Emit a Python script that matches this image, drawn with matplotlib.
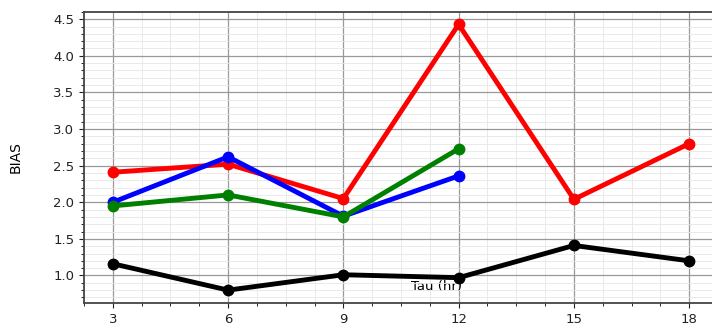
import numpy as np
import matplotlib.pyplot as plt
from matplotlib.ticker import MultipleLocator

# forecast lead times (hours)
tau = [3, 6, 9, 12, 15, 18]
tau_short = [3, 6, 9, 12]

# bias values
bias_red = [2.41, 2.52, 2.05, 4.43, 2.04, 2.80]
bias_blue = [2.00, 2.62, 1.81, 2.36]
bias_green = [1.95, 2.10, 1.80, 2.73]
bias_black = [1.16, 0.80, 1.01, 0.97, 1.41, 1.20]

fig = plt.figure(figsize=(7.12, 3.3), dpi=100)
ax = fig.add_axes([0.118, 0.082, 0.885, 0.882])

ax.plot(tau, bias_red, '-o', color='red', lw=3.5, ms=7.5)
ax.plot(tau_short, bias_blue, '-o', color='blue', lw=3.5, ms=7.5)
ax.plot(tau_short, bias_green, '-o', color='green', lw=3.5, ms=7.5)
ax.plot(tau, bias_black, '-o', color='black', lw=3.5, ms=7.5)

ax.set_xlim(2.25, 18.65)
ax.set_ylim(0.625, 4.6)
ax.set_xticks(tau)
ax.xaxis.set_minor_locator(MultipleLocator(0.75))
ax.yaxis.set_major_locator(MultipleLocator(0.5))
ax.yaxis.set_minor_locator(MultipleLocator(0.1))

ax.grid(which='major', color='#999999', lw=0.9)
ax.grid(which='minor', color='#e6e6e6', lw=0.6)
ax.set_axisbelow(True)

ax.tick_params(labelsize=9.5, colors='#222222')
ax.tick_params(which='minor', length=2)
for s in ax.spines.values():
    s.set_color('#444444')
    s.set_linewidth(1.3)
ax.spines['right'].set_visible(False)

ax.set_ylabel('BIAS', fontsize=10, labelpad=22)
ax.set_xlabel('Tau (hr)', fontsize=9.5)
ax.xaxis.set_label_coords(0.559, 0.078)

fig.savefig('out.png', dpi=100)
